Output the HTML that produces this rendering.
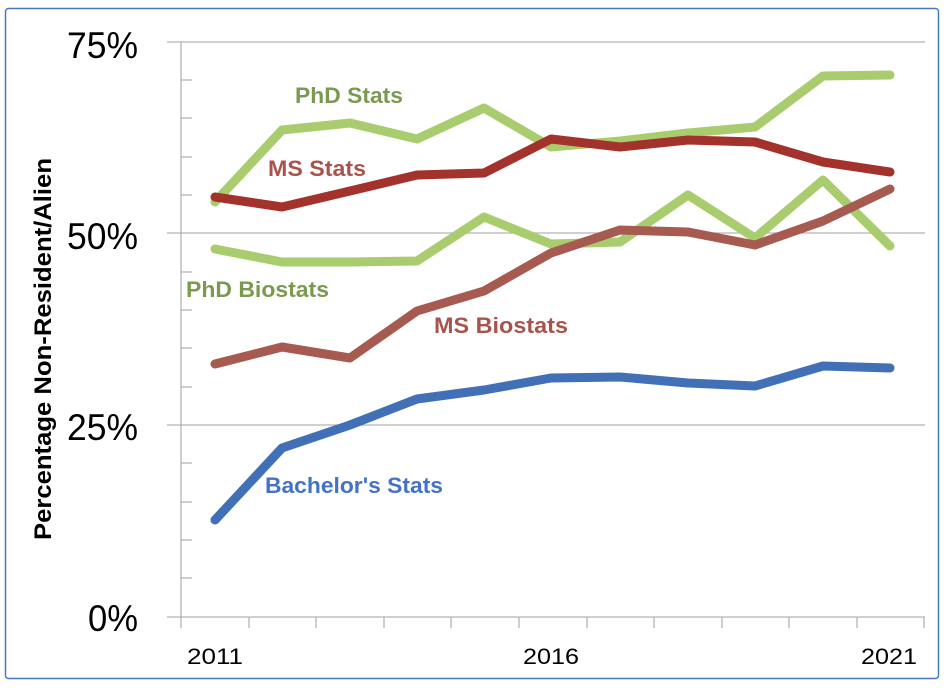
<!DOCTYPE html>
<html><head><meta charset="utf-8"><style>
html,body{margin:0;padding:0;background:#fff;}
svg{display:block;}
text{font-family:"Liberation Sans",Arial,sans-serif;}
</style></head><body>
<svg width="946" height="688" viewBox="0 0 946 688" xmlns="http://www.w3.org/2000/svg">
<rect x="5.5" y="8.5" width="933" height="670" rx="3" fill="#fff" stroke="#4a78c0" stroke-width="1.5"/>
<g stroke="#b3b3b3" stroke-width="1.3">
<line x1="167" y1="42" x2="925" y2="42"/>
<line x1="167" y1="233" x2="925" y2="233"/>
<line x1="167" y1="425" x2="925" y2="425"/>
<line x1="167" y1="617" x2="925" y2="617"/>
<line x1="181" y1="42" x2="181" y2="628"/>
<g>
<line x1="181" y1="80" x2="192" y2="80"/><line x1="181" y1="118" x2="192" y2="118"/><line x1="181" y1="157" x2="192" y2="157"/><line x1="181" y1="195" x2="192" y2="195"/>
<line x1="181" y1="272" x2="192" y2="272"/><line x1="181" y1="310" x2="192" y2="310"/><line x1="181" y1="348" x2="192" y2="348"/><line x1="181" y1="387" x2="192" y2="387"/>
<line x1="181" y1="463" x2="192" y2="463"/><line x1="181" y1="502" x2="192" y2="502"/><line x1="181" y1="540" x2="192" y2="540"/><line x1="181" y1="578" x2="192" y2="578"/>
</g>
<g>
<line x1="249" y1="617" x2="249" y2="628"/><line x1="316" y1="617" x2="316" y2="628"/><line x1="384" y1="617" x2="384" y2="628"/><line x1="451" y1="617" x2="451" y2="628"/><line x1="519" y1="617" x2="519" y2="628"/><line x1="587" y1="617" x2="587" y2="628"/><line x1="654" y1="617" x2="654" y2="628"/><line x1="722" y1="617" x2="722" y2="628"/><line x1="789" y1="617" x2="789" y2="628"/><line x1="857" y1="617" x2="857" y2="628"/><line x1="924" y1="617" x2="924" y2="628"/>
</g>
</g>
<g font-size="37" fill="#000">
<text x="67" y="58" textLength="71" lengthAdjust="spacingAndGlyphs">75%</text>
<text x="67" y="249" textLength="71" lengthAdjust="spacingAndGlyphs">50%</text>
<text x="67" y="440" textLength="71" lengthAdjust="spacingAndGlyphs">25%</text>
<text x="88" y="631" textLength="50" lengthAdjust="spacingAndGlyphs">0%</text>
</g>
<g font-size="22" fill="#000">
<text x="187" y="664" textLength="56" lengthAdjust="spacingAndGlyphs">2011</text>
<text x="523" y="664" textLength="56" lengthAdjust="spacingAndGlyphs">2016</text>
<text x="861" y="664" textLength="56" lengthAdjust="spacingAndGlyphs">2021</text>
</g>
<text transform="translate(51,540) rotate(-90)" font-size="24" font-weight="bold" fill="#000" textLength="382" lengthAdjust="spacingAndGlyphs">Percentage Non-Resident/Alien</text>
<g fill="none" stroke-width="9" stroke-linejoin="round" stroke-linecap="round">
<polyline stroke="#a9cd6e" points="215,202 282,130 350,123 417,139 484,108 551,147 620,141 688,133 755,127 823,76 890,75"/>
<polyline stroke="#a9cd6e" points="215,249 282,262 350,262 417,261 484,217 551,244 620,242 688,195 755,238 823,180 890,246"/>
<polyline stroke="#a65a50" points="215,364 282,347 350,358 417,311 484,291 551,253 620,230 688,232 755,245 823,221 890,189"/>
<polyline stroke="#a3322c" points="215,197 282,207 350,191 417,175 484,173 551,139 620,147 688,140 755,142 823,162 890,172"/>
<polyline stroke="#4170b6" points="215,520 282,448 350,425 417,399 484,390 551,378 620,377 688,383 755,386 823,366 890,368"/>
</g>
<g font-size="22" font-weight="bold">
<text x="295" y="103" fill="#7a9a4f" textLength="108" lengthAdjust="spacingAndGlyphs">PhD Stats</text>
<text x="268" y="176" fill="#a8544c" textLength="98" lengthAdjust="spacingAndGlyphs">MS Stats</text>
<text x="186" y="297" fill="#7a9a4f" textLength="143" lengthAdjust="spacingAndGlyphs">PhD Biostats</text>
<text x="434" y="333" fill="#a8544c" textLength="134" lengthAdjust="spacingAndGlyphs">MS Biostats</text>
<text x="265" y="493" fill="#4472c4" textLength="178" lengthAdjust="spacingAndGlyphs">Bachelor's Stats</text>
</g>
</svg>
</body></html>
